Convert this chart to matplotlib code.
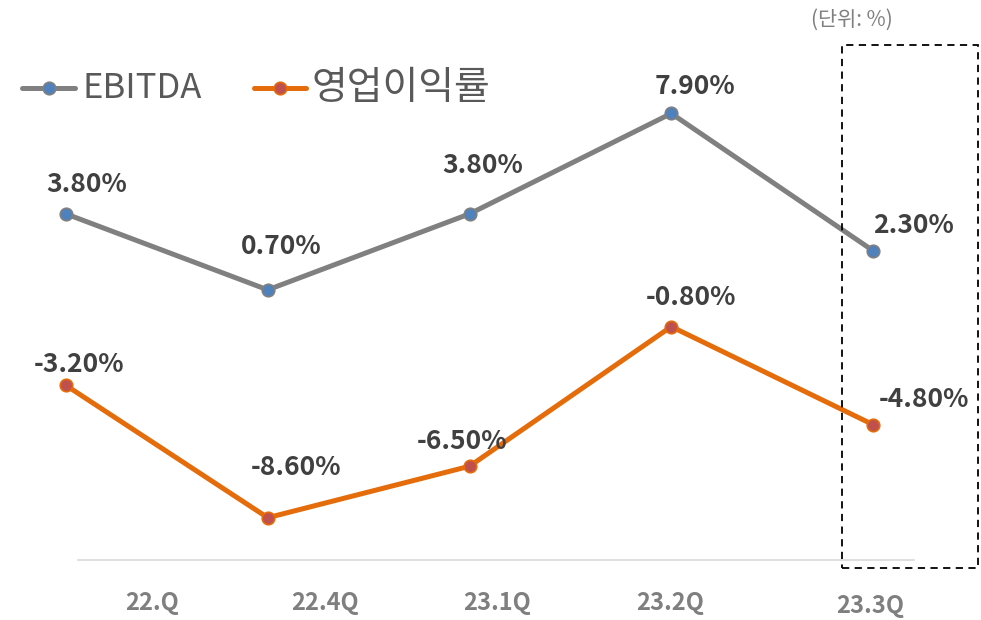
import matplotlib
matplotlib.use("Agg")
import matplotlib.pyplot as plt
import matplotlib.transforms as mtransforms
from matplotlib.patches import Rectangle

plt.rcParams['font.family'] = ['Noto Sans CJK KR', 'DejaVu Sans']

quarters = ["22.Q", "22.4Q", "23.1Q", "23.2Q", "23.3Q"]
ebitda = [3.8, 0.7, 3.8, 7.9, 2.3]
op_margin = [-3.2, -8.6, -6.5, -0.8, -4.8]
ebitda_labels = ["3.80%", "0.70%", "3.80%", "7.90%", "2.30%"]
op_labels = ["-3.20%", "-8.60%", "-6.50%", "-0.80%", "-4.80%"]

# label offsets in pixels (dx, dy up)
ebitda_off = [(21, 29), (14, 43), (13, 48), (24, 27), (41, 25)]
op_off = [(13, 21), (28, 50), (-7, 25), (20, 29), (51, 25)]
# tick label positions (category units) and vertical pixel positions
tick_pos = [0.426, 1.284, 2.136, 2.994, 3.985]
tick_y = [603, 603, 603, 603, 606]

W, H = 981, 620
fig = plt.figure(figsize=(W / 100, H / 100), dpi=100)
ax = fig.add_axes([0, 0, 1, 1])
ax.set_xlim(-66 / 201.75, (W - 66) / 201.75)
ax.set_ylim(-(H - 307) / 24.5, 307 / 24.5)
ax.axis('off')

x = list(range(len(quarters)))
gray = '#808080'
orange = '#E46C0A'
ax.plot(x, ebitda, color=gray, lw=3.6, marker='o', ms=9,
        mfc='#4F81BD', mec=gray, mew=1.2, solid_capstyle='round', zorder=3)
ax.plot(x, op_margin, color=orange, lw=3.6, marker='o', ms=9,
        mfc='#C0504D', mec=orange, mew=1.2, solid_capstyle='round', zorder=3)

px = 72 / 100
for xi, v, lab, (dx, dy) in zip(x, ebitda, ebitda_labels, ebitda_off):
    ax.annotate(lab, (xi, v), xytext=(dx * px, dy * px), textcoords='offset points',
                ha='center', va='center', fontsize=19, fontweight='bold', color='#404040')
for xi, v, lab, (dx, dy) in zip(x, op_margin, op_labels, op_off):
    ax.annotate(lab, (xi, v), xytext=(dx * px, dy * px), textcoords='offset points',
                ha='center', va='center', fontsize=19, fontweight='bold', color='#404040')

# axis baseline
fig.add_artist(plt.Line2D([78 / W, 914 / W], [1 - 560 / H, 1 - 560 / H],
                          color='#D9D9D9', lw=1.2))

# category labels
trans = mtransforms.blended_transform_factory(ax.transData, fig.transFigure)
for tp, ty, q in zip(tick_pos, tick_y, quarters):
    ax.text(tp, 1 - ty / H, q, transform=trans, ha='center', va='center',
            fontsize=17, fontweight='bold', color='#7F7F7F')

# dashed highlight box
fig.add_artist(Rectangle((842 / W, 1 - 568 / H), (978 - 842) / W, (568 - 45) / H,
                         transform=fig.transFigure, fill=False, ec='black',
                         lw=1.3, ls=(0, (4, 3))))

# unit note
fig.text(852 / W, 1 - 20 / H, "(단위: %)", ha='center', va='center',
         fontsize=15, color='#7F7F7F')

# legend (manual)
ly = 1 - 88 / H
fig.add_artist(plt.Line2D([22 / W, 75 / W], [ly, ly], color=gray, lw=3.6,
                          solid_capstyle='round'))
fig.add_artist(plt.Line2D([49 / W], [ly], marker='o', ms=9, mfc='#4F81BD',
                          mec=gray, mew=1.2, ls='none'))
fig.text(82 / W, ly, "EBITDA", ha='left', va='center', fontsize=25, color='#595959')
fig.add_artist(plt.Line2D([254 / W, 306 / W], [ly, ly], color=orange, lw=3.6,
                          solid_capstyle='round'))
fig.add_artist(plt.Line2D([280 / W], [ly], marker='o', ms=9, mfc='#C0504D',
                          mec=orange, mew=1.2, ls='none'))
fig.text(312 / W, ly, "영업이익률", ha='left', va='center', fontsize=28, color='#595959')

fig.savefig("out.png", dpi=100)
